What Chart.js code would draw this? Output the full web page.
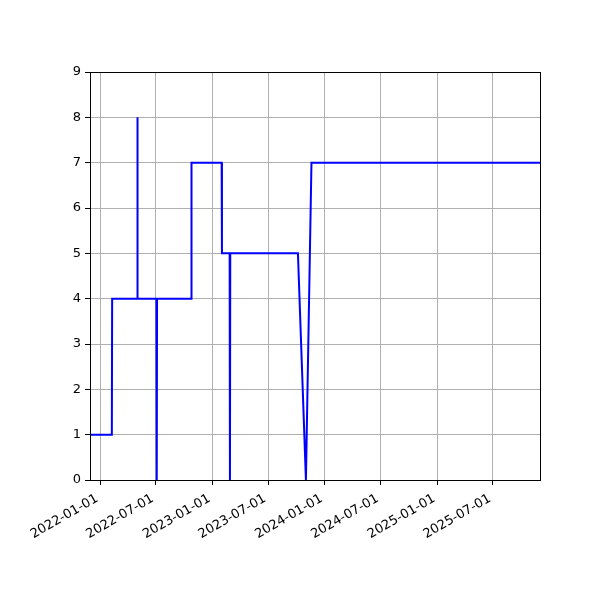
<!DOCTYPE html>
<html>
<head>
<meta charset="utf-8">
<script src="https://cdn.jsdelivr.net/npm/chart.js@4/dist/chart.umd.min.js"></script>
<style>
  body { margin: 0; background: #fff; }
  #wrap { width: 600px; height: 600px; }
</style>
</head>
<body>
<div id="wrap"><canvas id="grafico"></canvas></div>
<script>
// fechas y valores
const fechas = ['2021-11-29', '2022-02-08', '2022-02-09', '2022-05-01', '2022-05-02', '2022-05-03',
    '2022-07-03', '2022-07-04', '2022-07-05', '2022-10-24', '2022-10-25', '2023-01-31', '2023-02-01',
    '2023-02-26', '2023-02-27', '2023-02-28', '2023-10-06', '2023-11-01', '2023-11-19', '2025-12-01'];
const valores = [1, 1, 4, 4, 8, 4, 4, 0, 4, 4, 7, 7, 5, 5, 0, 5, 5, 0, 7, 7];
const ticksX = ['2022-01-01', '2022-07-01', '2023-01-01', '2023-07-01', '2024-01-01', '2024-07-01', '2025-01-01', '2025-07-01'];
const ticksY = [0, 1, 2, 3, 4, 5, 6, 7, 8, 9];

const fuente = { family: 'DejaVu Sans', size: 13 };
const gris = '#b0b0b0';

// marco negro alrededor del area del grafico
const marco = {
    id: 'marco',
    afterDraw(chart) {
        const { ctx, chartArea: a } = chart;
        ctx.save();
        ctx.strokeStyle = '#000';
        ctx.lineWidth = 1;
        ctx.strokeRect(Math.round(a.left) + 0.5, Math.round(a.top) + 0.5,
            Math.round(a.right - a.left), Math.round(a.bottom - a.top));
        ctx.restore();
    }
};

new Chart(document.getElementById('grafico'), {
    type: 'line',
    data: {
        datasets: [{
            data: fechas.map((f, i) => ({ x: Date.parse(f), y: valores[i] })),
            borderColor: '#0000ff',
            borderWidth: 2,
            pointRadius: 0,
            fill: false,
            tension: 0
        }]
    },
    options: {
        responsive: true,
        maintainAspectRatio: false,
        animation: false,
        layout: { padding: { top: 72, right: 60, left: 0, bottom: 0 } },
        plugins: { legend: { display: false }, tooltip: { enabled: false } },
        scales: {
            x: {
                type: 'linear',
                min: Date.parse(fechas[0]),
                max: Date.parse(fechas[fechas.length - 1]),
                afterBuildTicks: scale => {
                    scale.ticks = ticksX.map(t => ({ value: Date.parse(t) }));
                },
                afterFit: scale => { scale.height = 120; },
                ticks: {
                    callback: v => new Date(v).toISOString().slice(0, 10),
                    minRotation: 30,
                    maxRotation: 30,
                    autoSkip: false,
                    color: '#000',
                    font: fuente,
                    padding: 6,
                    labelOffset: -3
                },
                grid: { color: gris, lineWidth: 1, tickColor: '#000', tickLength: 5 },
                border: { color: '#000' }
            },
            y: {
                min: 0,
                max: 9,
                afterBuildTicks: scale => {
                    scale.ticks = ticksY.map(v => ({ value: v }));
                },
                afterFit: scale => { scale.width = 90; },
                ticks: { color: '#000', font: fuente, padding: 4 },
                grid: { color: gris, lineWidth: 1, tickColor: '#000', tickLength: 5 },
                border: { color: '#000' }
            }
        }
    },
    plugins: [marco]
});
</script>
</body>
</html>
